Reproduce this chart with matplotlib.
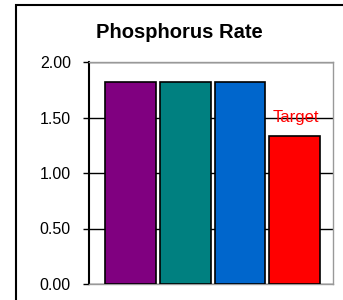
import matplotlib.pyplot as plt
from matplotlib.patches import Rectangle

# データ
categories = ['1', '2', '3', 'Target']
rates = [1.82, 1.82, 1.82, 1.33]
bar_colors = ['#800080', '#008080', '#0066CC', '#FF0000']
yticks = [0.0, 0.5, 1.0, 1.5, 2.0]

plt.rcParams['font.family'] = ['Liberation Sans', 'DejaVu Sans']

fig = plt.figure(figsize=(3.43, 3.0), dpi=100)
ax = fig.add_axes([89 / 343, 1 - 284 / 300, 244 / 343, 222 / 300])

# 外枠
fig.patches.append(Rectangle((15.5 / 343, -0.1), 1.2, 1.1 - 5.5 / 300,
                             transform=fig.transFigure, fill=False,
                             edgecolor='black', linewidth=1.5))

x = list(range(len(categories)))
ax.bar(x, rates, width=0.93, color=bar_colors, edgecolor='black',
       linewidth=1.2, zorder=3)

ax.set_xlim(-0.76, 3.70)
ax.set_ylim(0, 2.0)
ax.set_yticks(yticks)
ax.set_yticklabels(['%.2f' % v for v in yticks], fontsize=11.5)
ax.set_xticks([])
ax.yaxis.grid(True, color='black', linewidth=1.0, zorder=0)
ax.set_axisbelow(True)
ax.tick_params(axis='y', length=4, width=1, color='black', pad=9)

for side in ['top', 'right', 'bottom']:
    ax.spines[side].set_color('#999999')
    ax.spines[side].set_linewidth(1.0)
ax.spines['left'].set_color('black')
ax.spines['left'].set_linewidth(1.5)

# ターゲットラベル
ax.text(x[3] + 0.03, 1.5, 'Target', color='red', fontsize=12,
        ha='center', va='center', zorder=4)

fig.text(179.5 / 343, 1 - 33 / 300, 'Phosphorus Rate', fontsize=14.5,
         fontweight='bold', ha='center', va='center')

fig.savefig('out.png', dpi=100)
